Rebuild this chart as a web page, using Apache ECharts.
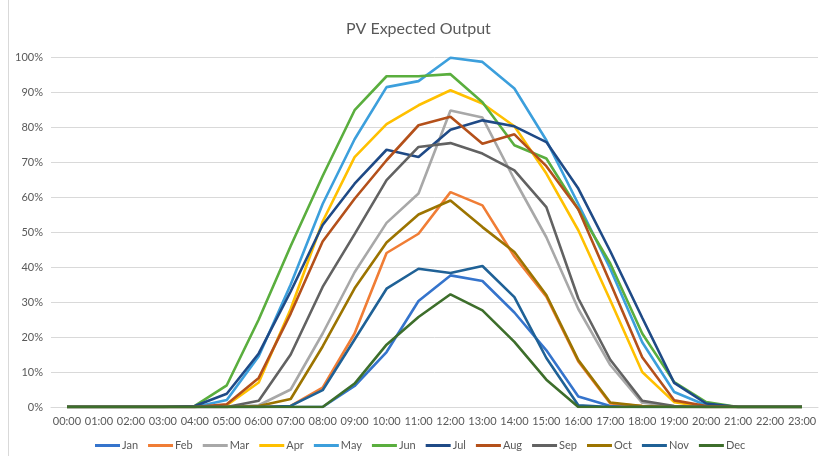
<!DOCTYPE html>
<html>
<head>
<meta charset="utf-8">
<script src="https://cdn.jsdelivr.net/npm/echarts@6/dist/echarts.min.js"></script>
<style>
  html, body { margin: 0; padding: 0; background: #fff; }
  #main { width: 822px; height: 456px; }
</style>
</head>
<body>
<div id="main"></div>
<script>
var hours = ['00:00','01:00','02:00','03:00','04:00','05:00','06:00','07:00','08:00','09:00','10:00','11:00',
             '12:00','13:00','14:00','15:00','16:00','17:00','18:00','19:00','20:00','21:00','22:00','23:00'];

// percent of expected output per hour
var jan = [0,0,0,0,0,0,0,0,0,6,15.7,30.3,37.6,36,27,16.2,3,0.3,0,0,0,0,0,0];
var feb = [0,0,0,0,0,0,0,0.3,5.5,21,44,49.5,61.4,57.6,43,31.5,13,1,0.3,0,0,0,0,0];
var mar = [0,0,0,0,0,0,0.5,5,21,38.5,52.6,61,84.7,82.7,65,48.5,28,12,1.2,0.2,0,0,0,0];
var apr = [0,0,0,0,0,0.5,7,28,53,71.4,80.8,86.2,90.5,86.7,80.2,66.7,50.5,30.5,10,1.4,0,0,0,0];
var may = [0,0,0,0,0,2,14.5,35,58,76.5,91.4,93.1,99.8,98.6,91,76.2,58,39.5,18.5,4.3,0.5,0,0,0];
var jun = [0,0,0,0,0.3,6.2,25,46,66,84.8,94.5,94.5,95.1,87.1,74.8,71,56.5,41,21,7.1,1.4,0,0,0];
var jul = [0,0,0,0,0.3,3.8,15.3,33,52,63.8,73.5,71.4,79.2,81.9,80.2,75.7,62.4,44.5,25.5,6.9,1,0,0,0];
var aug = [0,0,0,0,0,0.8,8.3,26.7,47.3,59.5,70.5,80.5,82.9,75.2,77.9,68.8,56.5,35.5,14.2,1.9,0.3,0,0,0];
var sep = [0,0,0,0,0,0,1.8,15,34.3,49.4,64.8,74.3,75.4,72.4,67.6,57.1,31,13.5,1.8,0.3,0,0,0,0];
var oct = [0,0,0,0,0,0,0.3,2.3,17.3,33.9,47,55,59,51.4,44.3,32,13.4,1.3,0.3,0,0,0,0,0];
var nov = [0,0,0,0,0,0,0,0.3,4.8,19.3,33.8,39.5,38.3,40.3,31.4,14,0.5,0,0,0,0,0,0,0];
var dec = [0,0,0,0,0,0,0,0,0,6.7,17.8,25.7,32.2,27.6,18.6,7.8,0,0,0,0,0,0,0,0];

var months = ['Jan','Feb','Mar','Apr','May','Jun','Jul','Aug','Sep','Oct','Nov','Dec'];
var values = [jan, feb, mar, apr, may, jun, jul, aug, sep, oct, nov, dec];
var colors = ['#3574cc','#f07d35','#a8a8a8','#ffc000','#3c9fdc','#5aae3e',
              '#1f4a86','#b4501a','#626262','#9c7400','#1f6196','#3d6e2b'];

var myChart = echarts.init(document.getElementById('main'));

var series = months.map(function (m, i) {
    return {
        name: m,
        type: 'line',
        data: values[i],
        symbol: 'none',
        lineStyle: { width: 2.6, color: colors[i] },
        itemStyle: { color: colors[i] }
    };
});

var option = {
    backgroundColor: '#fff',
    textStyle: { fontFamily: 'Lato, sans-serif' },
    title: {
        text: 'PV Expected Output',
        left: 346,
        top: 21,
        padding: 0,
        textStyle: { fontSize: 16, fontWeight: 'normal', color: '#595959', fontFamily: 'Lato, sans-serif' }
    },
    legend: {
        data: months,
        left: 95,
        top: 440,
        padding: 0,
        icon: 'rect',
        itemWidth: 25,
        itemHeight: 3,
        itemGap: 10,
        textStyle: { fontSize: 11, color: '#595959', padding: [0, 0, 0, -3] }
    },
    graphic: [{
        type: 'line',
        shape: { x1: 8.5, y1: 0, x2: 8.5, y2: 456 },
        style: { stroke: '#d9d9d9', lineWidth: 1 }
    }],
    grid: { left: 51, right: 4, top: 57, bottom: 49 },
    xAxis: {
        type: 'category',
        data: hours,
        boundaryGap: true,
        axisLine: { lineStyle: { color: '#d9d9d9' } },
        axisTick: { show: false },
        axisLabel: { color: '#595959', fontSize: 11, margin: 9, interval: 0 }
    },
    yAxis: {
        type: 'value',
        min: 0,
        max: 100,
        interval: 10,
        axisLine: { show: false },
        axisTick: { show: false },
        axisLabel: { color: '#595959', fontSize: 11, margin: 8, formatter: '{value}%' },
        splitLine: { lineStyle: { color: '#d9d9d9', width: 1 } }
    },
    series: series
};

myChart.setOption(option);
</script>
</body>
</html>
